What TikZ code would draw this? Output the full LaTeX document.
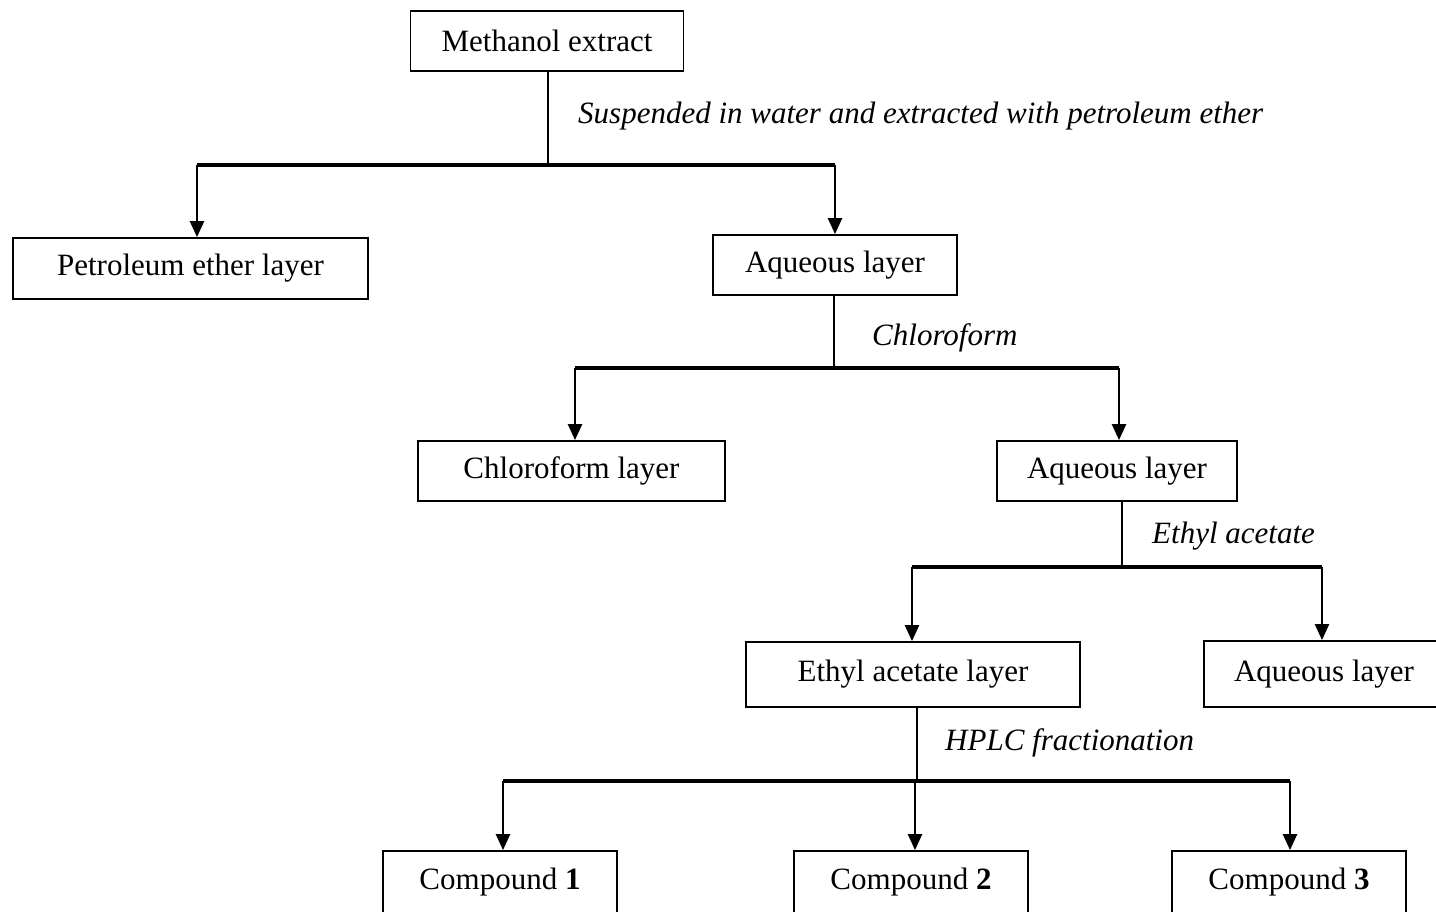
\documentclass[tikz,border=0pt]{standalone}
\usepackage{fontspec}
\setmainfont{Liberation Serif}
\usetikzlibrary{arrows.meta}
\begin{document}
\begin{tikzpicture}[x=1pt,y=-1pt,
  box/.style={draw,line width=1.8pt,inner sep=0pt,font=\fontsize{31}{37}\selectfont},
  lab/.style={font=\fontsize{31}{37}\selectfont\itshape,anchor=west,inner sep=0pt},
  conn/.style={line width=2.4pt},
  bar/.style={line width=3.2pt},
  arr/.style={line width=2.4pt,-{Triangle[length=16pt,width=14pt]}}]
\useasboundingbox (0,0) rectangle (1436,911);
\clip (0,0) rectangle (1436,911);
% boxes
\node[box,minimum width=273,minimum height=60] (me) at (547,41) {Methanol extract};
\node[box,minimum width=355,minimum height=61] (pe) at (190.5,268.5) {Petroleum ether layer};
\node[box,minimum width=244,minimum height=60] (aq1) at (835,265) {Aqueous layer};
\node[box,minimum width=307,minimum height=60] (cl) at (571.5,471) {Chloroform layer};
\node[box,minimum width=240,minimum height=60] (aq2) at (1117,471) {Aqueous layer};
\node[box,minimum width=334,minimum height=65] (ea) at (913,674.5) {Ethyl acetate layer};
\node[box,minimum width=240,minimum height=66] (aq3) at (1324,674) {Aqueous layer};
\node[box,minimum width=234,minimum height=62] (c1) at (500,882) {Compound \textbf{1}};
\node[box,minimum width=234,minimum height=62] (c2) at (911,882) {Compound \textbf{2}};
\node[box,minimum width=234,minimum height=62] (c3) at (1289,882) {Compound \textbf{3}};
% labels
\node[lab] (l1) at (578,116) {Suspended in water and extracted with petroleum ether};
\node[lab] (l2) at (872,338) {Chloroform};
\node[lab] (l3) at (1152,536) {Ethyl acetate};
\node[lab] (l4) at (945,743) {HPLC fractionation};
% junctions
\coordinate (j1) at (548,165);
\coordinate (j2) at (834,368);
\coordinate (j3) at (1122,567);
\coordinate (j4) at (917,781);
% arrow targets
\coordinate (t1) at ([xshift=6.5]pe.north);
\coordinate (t2) at (aq1.north);
\coordinate (t3) at ([xshift=3.5]cl.north);
\coordinate (t4) at ([xshift=2]aq2.north);
\coordinate (t5) at ([xshift=-1]ea.north);
\coordinate (t6) at ([xshift=-2]aq3.north);
\coordinate (t7) at ([xshift=3]c1.north);
\coordinate (t8) at ([xshift=4]c2.north);
\coordinate (t9) at ([xshift=1]c3.north);
% level 1
\draw[conn] (me.south -| j1) -- (j1);
\draw[bar] (t1 |- j1) -- (t2 |- j1);
\draw[arr] (t1 |- j1) -- (t1);
\draw[arr] (t2 |- j1) -- (t2);
% level 2
\draw[conn] (aq1.south -| j2) -- (j2);
\draw[bar] (t3 |- j2) -- (t4 |- j2);
\draw[arr] (t3 |- j2) -- (t3);
\draw[arr] (t4 |- j2) -- (t4);
% level 3
\draw[conn] (aq2.south -| j3) -- (j3);
\draw[bar] (t5 |- j3) -- (t6 |- j3);
\draw[arr] (t5 |- j3) -- (t5);
\draw[arr] (t6 |- j3) -- (t6);
% level 4
\draw[conn] (ea.south -| j4) -- (j4);
\draw[bar] (t7 |- j4) -- (t9 |- j4);
\draw[arr] (t7 |- j4) -- (t7);
\draw[arr] (t8 |- j4) -- (t8);
\draw[arr] (t9 |- j4) -- (t9);
\end{tikzpicture}
\end{document}
